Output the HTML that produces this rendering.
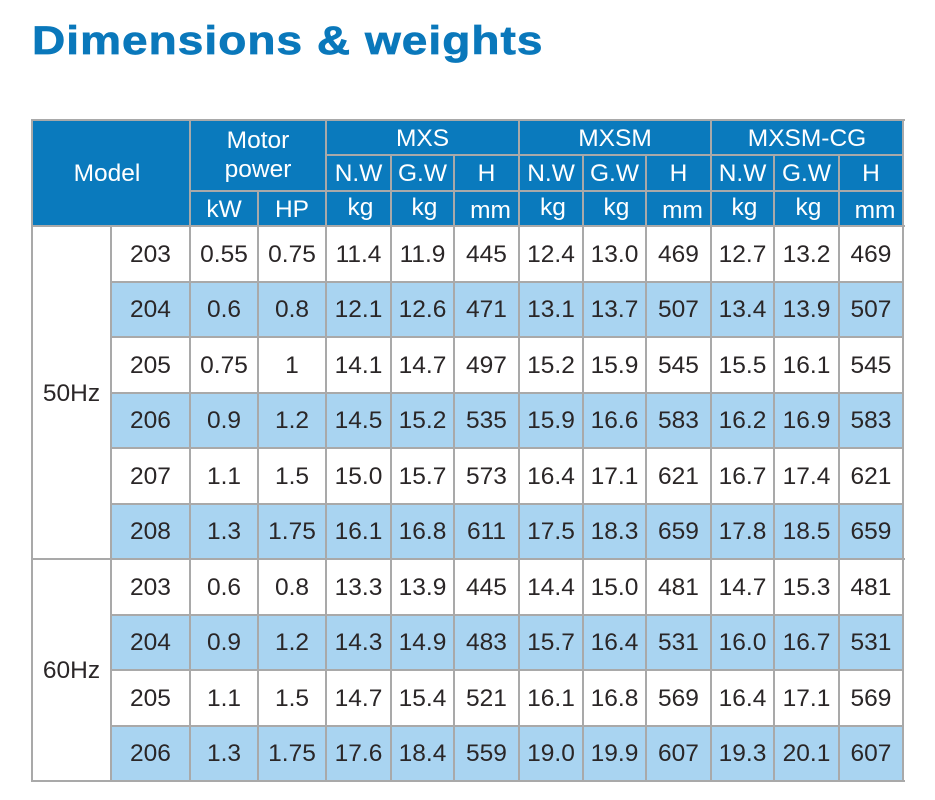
<!DOCTYPE html>
<html><head><meta charset="utf-8">
<style>
html,body{margin:0;padding:0;background:#fff;}
body{width:935px;height:800px;position:relative;overflow:hidden;font-family:"Liberation Sans",Arial,sans-serif;}
.title{position:absolute;left:32px;top:21px;font-size:40px;line-height:40px;font-weight:bold;color:#0a78bb;letter-spacing:0.9px;transform:scaleX(1.15);transform-origin:0 0;white-space:nowrap;-webkit-text-stroke:0.7px #0a78bb;}
.bg{position:absolute;}
.hl{position:absolute;height:2px;background:#a9a9a9;}
.vl{position:absolute;width:2px;background:#a9a9a9;}
.row{position:absolute;left:0;width:935px;height:55.5px;}
.t{position:absolute;top:0;height:100%;display:flex;align-items:center;justify-content:center;font-size:24.5px;color:#2a2627;white-space:nowrap;box-sizing:border-box;padding-top:2px;}
.w{color:#fff;}
.a{left:111px;width:79px}.b{left:190px;width:68px}.c{left:258px;width:68px}
.d{left:326px;width:65px}.e{left:391px;width:63px}.f{left:454px;width:65px}
.g{left:519px;width:64px}.h{left:583px;width:63px}.i{left:646px;width:65px}
.j{left:711px;width:63px}.k{left:774px;width:65px}.l{left:839px;width:64px}
.kg{padding-left:4px;padding-bottom:2px;padding-top:0;}
.mm{padding-left:8px;padding-top:5px;}
</style></head><body>
<div class="title">Dimensions &amp; weights</div>

<!-- backgrounds -->
<div class="bg" style="left:32px;top:120px;width:871px;height:106px;background:#0a7abd;"></div>
<div class="bg" style="left:111px;top:281.5px;width:792px;height:55.5px;background:#a9d4f1;"></div>
<div class="bg" style="left:111px;top:392.5px;width:792px;height:55.5px;background:#a9d4f1;"></div>
<div class="bg" style="left:111px;top:503.5px;width:792px;height:55.5px;background:#a9d4f1;"></div>
<div class="bg" style="left:111px;top:614.5px;width:792px;height:55.5px;background:#a9d4f1;"></div>
<div class="bg" style="left:111px;top:725.5px;width:792px;height:55.5px;background:#a9d4f1;"></div>

<!-- header text -->
<div class="t w" style="left:28px;top:120px;width:158px;height:106px;">Model</div>
<div class="t w" style="left:190px;top:120px;width:136px;height:71px;text-align:center;line-height:29px;padding-top:0;padding-bottom:1px;">Motor<br>power</div>
<div class="t w" style="left:326px;top:120px;width:193px;height:35px;">MXS</div>
<div class="t w" style="left:519px;top:120px;width:192px;height:35px;">MXSM</div>
<div class="t w" style="left:711px;top:120px;width:192px;height:35px;">MXSM-CG</div>

<div class="row" style="top:155px;height:36px;">
<span class="t w d">N.W</span><span class="t w e">G.W</span><span class="t w f">H</span>
<span class="t w g">N.W</span><span class="t w h">G.W</span><span class="t w i">H</span>
<span class="t w j">N.W</span><span class="t w k">G.W</span><span class="t w l">H</span>
</div>
<div class="row" style="top:191px;height:35px;">
<span class="t w b">kW</span><span class="t w c">HP</span>
<span class="t w d kg">kg</span><span class="t w e kg">kg</span><span class="t w f mm">mm</span>
<span class="t w g kg">kg</span><span class="t w h kg">kg</span><span class="t w i mm">mm</span>
<span class="t w j kg">kg</span><span class="t w k kg">kg</span><span class="t w l mm">mm</span>
</div>

<!-- group labels -->
<div class="t" style="left:32px;top:226px;width:79px;height:333px;">50Hz</div>
<div class="t" style="left:32px;top:559px;width:79px;height:222px;">60Hz</div>

<!-- data rows -->
<div class="row" style="top:226px"><span class="t a">203</span><span class="t b">0.55</span><span class="t c">0.75</span><span class="t d">11.4</span><span class="t e">11.9</span><span class="t f">445</span><span class="t g">12.4</span><span class="t h">13.0</span><span class="t i">469</span><span class="t j">12.7</span><span class="t k">13.2</span><span class="t l">469</span></div>
<div class="row" style="top:281.5px"><span class="t a">204</span><span class="t b">0.6</span><span class="t c">0.8</span><span class="t d">12.1</span><span class="t e">12.6</span><span class="t f">471</span><span class="t g">13.1</span><span class="t h">13.7</span><span class="t i">507</span><span class="t j">13.4</span><span class="t k">13.9</span><span class="t l">507</span></div>
<div class="row" style="top:337px"><span class="t a">205</span><span class="t b">0.75</span><span class="t c">1</span><span class="t d">14.1</span><span class="t e">14.7</span><span class="t f">497</span><span class="t g">15.2</span><span class="t h">15.9</span><span class="t i">545</span><span class="t j">15.5</span><span class="t k">16.1</span><span class="t l">545</span></div>
<div class="row" style="top:392.5px"><span class="t a">206</span><span class="t b">0.9</span><span class="t c">1.2</span><span class="t d">14.5</span><span class="t e">15.2</span><span class="t f">535</span><span class="t g">15.9</span><span class="t h">16.6</span><span class="t i">583</span><span class="t j">16.2</span><span class="t k">16.9</span><span class="t l">583</span></div>
<div class="row" style="top:448px"><span class="t a">207</span><span class="t b">1.1</span><span class="t c">1.5</span><span class="t d">15.0</span><span class="t e">15.7</span><span class="t f">573</span><span class="t g">16.4</span><span class="t h">17.1</span><span class="t i">621</span><span class="t j">16.7</span><span class="t k">17.4</span><span class="t l">621</span></div>
<div class="row" style="top:503.5px"><span class="t a">208</span><span class="t b">1.3</span><span class="t c">1.75</span><span class="t d">16.1</span><span class="t e">16.8</span><span class="t f">611</span><span class="t g">17.5</span><span class="t h">18.3</span><span class="t i">659</span><span class="t j">17.8</span><span class="t k">18.5</span><span class="t l">659</span></div>
<div class="row" style="top:559px"><span class="t a">203</span><span class="t b">0.6</span><span class="t c">0.8</span><span class="t d">13.3</span><span class="t e">13.9</span><span class="t f">445</span><span class="t g">14.4</span><span class="t h">15.0</span><span class="t i">481</span><span class="t j">14.7</span><span class="t k">15.3</span><span class="t l">481</span></div>
<div class="row" style="top:614.5px"><span class="t a">204</span><span class="t b">0.9</span><span class="t c">1.2</span><span class="t d">14.3</span><span class="t e">14.9</span><span class="t f">483</span><span class="t g">15.7</span><span class="t h">16.4</span><span class="t i">531</span><span class="t j">16.0</span><span class="t k">16.7</span><span class="t l">531</span></div>
<div class="row" style="top:670px"><span class="t a">205</span><span class="t b">1.1</span><span class="t c">1.5</span><span class="t d">14.7</span><span class="t e">15.4</span><span class="t f">521</span><span class="t g">16.1</span><span class="t h">16.8</span><span class="t i">569</span><span class="t j">16.4</span><span class="t k">17.1</span><span class="t l">569</span></div>
<div class="row" style="top:725.5px"><span class="t a">206</span><span class="t b">1.3</span><span class="t c">1.75</span><span class="t d">17.6</span><span class="t e">18.4</span><span class="t f">559</span><span class="t g">19.0</span><span class="t h">19.9</span><span class="t i">607</span><span class="t j">19.3</span><span class="t k">20.1</span><span class="t l">607</span></div>

<!-- horizontal lines -->
<div class="hl" style="left:31px;top:119px;width:874px;"></div>
<div class="hl" style="left:326px;top:154px;width:578px;"></div>
<div class="hl" style="left:190px;top:190px;width:714px;"></div>
<div class="hl" style="left:31px;top:225px;width:874px;"></div>
<div class="hl" style="left:111px;top:280.5px;width:793px;"></div>
<div class="hl" style="left:111px;top:336px;width:793px;"></div>
<div class="hl" style="left:111px;top:391.5px;width:793px;"></div>
<div class="hl" style="left:111px;top:447px;width:793px;"></div>
<div class="hl" style="left:111px;top:502.5px;width:793px;"></div>
<div class="hl" style="left:31px;top:558px;width:874px;"></div>
<div class="hl" style="left:111px;top:613.5px;width:793px;"></div>
<div class="hl" style="left:111px;top:669px;width:793px;"></div>
<div class="hl" style="left:111px;top:724.5px;width:793px;"></div>
<div class="hl" style="left:31px;top:780px;width:874px;"></div>

<!-- vertical lines -->
<div class="vl" style="left:31px;top:119px;height:663px;"></div>
<div class="vl" style="left:110px;top:226px;height:556px;"></div>
<div class="vl" style="left:189px;top:119px;height:663px;"></div>
<div class="vl" style="left:257px;top:191px;height:591px;"></div>
<div class="vl" style="left:325px;top:119px;height:663px;"></div>
<div class="vl" style="left:390px;top:155px;height:627px;"></div>
<div class="vl" style="left:453px;top:155px;height:627px;"></div>
<div class="vl" style="left:518px;top:119px;height:663px;"></div>
<div class="vl" style="left:582px;top:155px;height:627px;"></div>
<div class="vl" style="left:645px;top:155px;height:627px;"></div>
<div class="vl" style="left:710px;top:119px;height:663px;"></div>
<div class="vl" style="left:773px;top:155px;height:627px;"></div>
<div class="vl" style="left:838px;top:155px;height:627px;"></div>
<div class="vl" style="left:902px;top:119px;height:663px;"></div>
</body></html>
